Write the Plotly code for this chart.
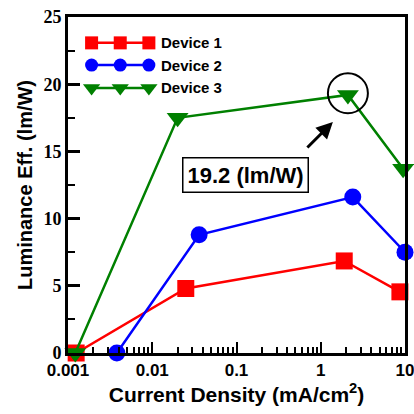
import plotly.graph_objects as go
import numpy as np

# Data
dev1_x = [0.00125, 0.025, 1.9, 8.7]
dev1_y = [0.0, 4.8, 6.85, 4.55]
dev2_x = [0.0038, 0.036, 2.4, 10.0]
dev2_y = [0.0, 8.8, 11.6, 7.5]
dev3_x = [0.00122, 0.020, 2.1, 9.5]
dev3_y = [0.0, 17.5, 19.2, 13.7]
names = ["Device 1", "Device 2", "Device 3"]
colors = ["#ff0000", "#0000ff", "#008000"]
symbols = ["square", "circle", "triangle-down"]
msizes = [17, 17, 19]
xtick_vals = [0.001, 0.01, 0.1, 1, 10]
xtick_text = ["0.001", "0.01", "0.1", "1", "10"]
peak_label = "19.2 (lm/W)"

fig = go.Figure()
for xs, ys, c, s, ms in zip([dev1_x, dev2_x, dev3_x], [dev1_y, dev2_y, dev3_y], colors, symbols, msizes):
    fig.add_trace(go.Scatter(x=xs, y=ys, mode="lines+markers",
                             line=dict(color=c, width=2.5),
                             marker=dict(symbol=s, size=ms, color=c, line=dict(width=0)),
                             cliponaxis=False, showlegend=False))

# Custom legend samples on an overlay axis (0..1)
leg_x = [0.07, 0.155, 0.24]
leg_rows = [0.923, 0.857, 0.789]
for nm, c, s, ms, ry in zip(names, colors, symbols, msizes, leg_rows):
    fig.add_trace(go.Scatter(x=leg_x, y=[ry]*3, xaxis="x2", yaxis="y2", mode="lines+markers",
                             line=dict(color=c, width=2.5),
                             marker=dict(symbol=s, size=ms-4, color=c, line=dict(width=0)),
                             showlegend=False, cliponaxis=False))
    fig.add_annotation(x=0.27, y=ry, xref="x2", yref="y2", text=nm, showarrow=False,
                       xanchor="left", yanchor="middle",
                       font=dict(family="Liberation Sans, Arial", size=15, color="black", weight="bold"))

# circle around peak (overlay coords computed from axis mapping)
px = (np.log10(dev3_x[2]) + 3) / 4
py = dev3_y[2] / 25
rx = 20 / 337
ry_ = 20 / 336
fig.add_shape(type="circle", xref="x2", yref="y2", x0=px - rx, x1=px + rx, y0=py - ry_ + 0.005, y1=py + ry_ + 0.005,
              line=dict(color="black", width=2))
# arrow
fig.add_annotation(x=0.786, y=0.6875, xref="x2", yref="y2", ax=-27, ay=27, text="",
                   showarrow=True, arrowhead=2, arrowsize=1.1, arrowwidth=3, arrowcolor="black")
# label box
fig.add_annotation(x=0.528, y=0.531, xref="x2", yref="y2", text=peak_label, showarrow=False,
                   bordercolor="black", borderwidth=1.5, borderpad=4, bgcolor="white",
                   font=dict(family="Liberation Sans, Arial", size=22, color="black", weight="bold"))

fig.update_layout(
    width=414, height=414,
    margin=dict(l=68, r=9, t=17, b=61),
    paper_bgcolor="white", plot_bgcolor="white",
    xaxis=dict(type="log", range=[-3, 1], tickvals=xtick_vals, ticktext=xtick_text,
               automargin=False, ticklabeloverflow="allow",
               ticks="inside", ticklen=11, tickwidth=2, tickcolor="black",
               minor=dict(ticks="inside", ticklen=6, tickwidth=1.5, tickcolor="black",
                          tickvals=[m * 10.0**e for e in range(-3, 1) for m in range(2, 10)]),
               showline=True, linewidth=3, linecolor="black", mirror=True, showgrid=False,
               zeroline=False,
               tickfont=dict(family="Liberation Sans, Arial", size=17, color="black", weight="bold"),
               title=dict(text="Current Density (mA/cm<sup>2</sup>)", standoff=8,
                          font=dict(family="Liberation Sans, Arial", size=21, color="black", weight="bold"))),
    yaxis=dict(range=[0, 25], dtick=5, ticks="inside", ticklen=12, tickwidth=2.5, tickcolor="black",
               automargin=False, ticklabeloverflow="allow",
               minor=dict(ticks="inside", ticklen=7, tickwidth=2, tickcolor="black", dtick=2.5),
               showline=True, linewidth=3, linecolor="black", mirror=True, showgrid=False,
               zeroline=False,
               tickfont=dict(family="Liberation Serif, Times New Roman", size=18, color="black", weight="bold"),
               title=dict(text="Luminance Eff. (lm/W)", standoff=6,
                          font=dict(family="Liberation Sans, Arial", size=20, color="black", weight="bold"))),
    xaxis2=dict(range=[0, 1], overlaying="x", visible=False, fixedrange=True),
    yaxis2=dict(range=[0, 1], overlaying="y", visible=False, fixedrange=True),
)

fig.write_html("out.html")
